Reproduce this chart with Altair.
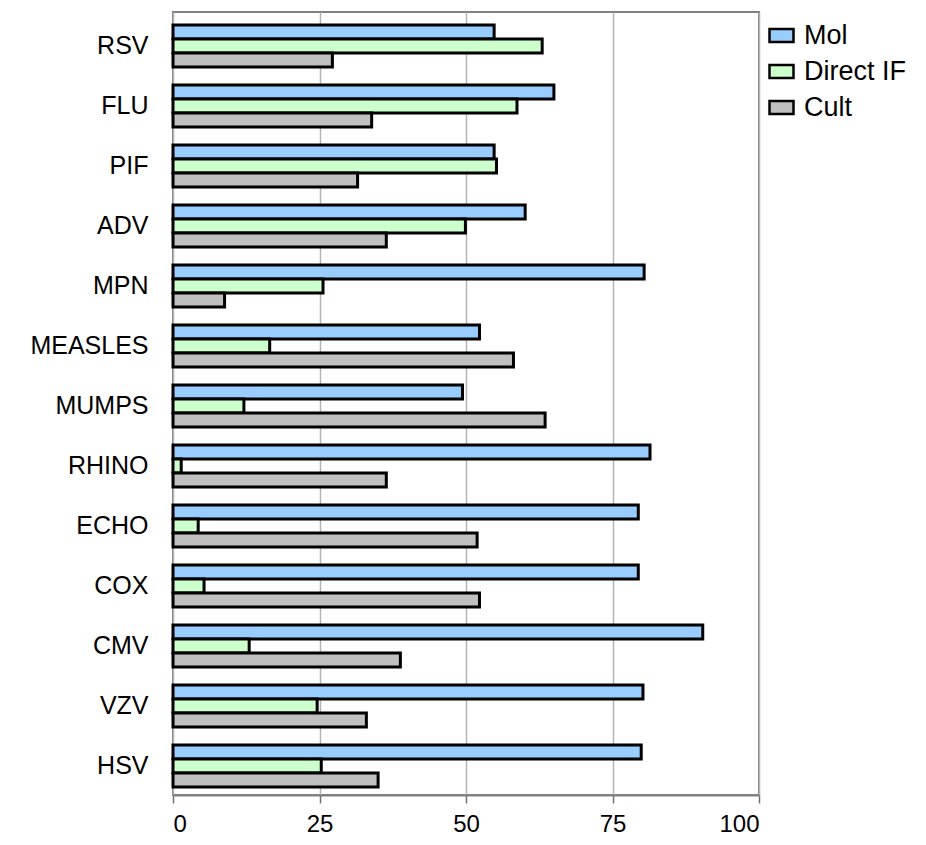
import altair as alt
import pandas as pd

categories = ["RSV", "FLU", "PIF", "ADV", "MPN", "MEASLES", "MUMPS", "RHINO",
              "ECHO", "COX", "CMV", "VZV", "HSV"]
series = ["Mol", "Direct IF", "Cult"]
mol = [54.8, 65.0, 54.8, 60.1, 80.4, 52.3, 49.4, 81.4, 79.4, 79.4, 90.4, 80.2, 79.9]
direct_if = [63.0, 58.7, 55.2, 49.9, 25.6, 16.5, 12.1, 1.4, 4.3, 5.3, 13.0, 24.6, 25.3]
cult = [27.2, 33.9, 31.5, 36.4, 8.8, 58.1, 63.5, 36.4, 51.9, 52.3, 38.8, 33.0, 35.0]
colors = ["#99CCFF", "#CCFFCC", "#C0C0C0"]
x_ticks = [0, 25, 50, 75, 100]

rows = []
for s, vals in zip(series, [mol, direct_if, cult]):
    for c, v in zip(categories, vals):
        rows.append({"category": c, "series": s, "value": v})
df = pd.DataFrame(rows)

FONT = "Liberation Sans"

chart = alt.Chart(df).mark_bar(stroke="black", strokeWidth=3, opacity=1).encode(
    x=alt.X("value:Q",
            scale=alt.Scale(domain=[0, 100], nice=False, zero=True),
            axis=alt.Axis(values=x_ticks, title=None, grid=True, gridColor="#B4B4B4",
                          gridWidth=1.5, tickColor="#707070", tickSize=8, tickWidth=1.5,
                          domainColor="#808080", domainWidth=2, labelFont=FONT,
                          labelFontSize=24, labelPadding=9, labelColor="black")),
    y=alt.Y("category:N", sort=categories,
            scale=alt.Scale(paddingInner=0.3, paddingOuter=0.175, align=0.62),
            axis=alt.Axis(title=None, ticks=False, domain=False, labelFont=FONT,
                          labelFontSize=25, labelPadding=25, labelColor="black",
                          labelAlign="right")),
    yOffset=alt.YOffset("series:N", sort=series),
    color=alt.Color("series:N", sort=series,
                    scale=alt.Scale(domain=series, range=colors),
                    legend=alt.Legend(title=None, orient="none", legendX=595, legendY=10,
                                      labelFont=FONT, labelFontSize=27, labelColor="black",
                                      labelOffset=9, rowPadding=8,
                                      symbolType="M-1,-0.54L1,-0.54L1,0.54L-1,0.54Z",
                                      symbolSize=576, symbolStrokeColor="black",
                                      symbolStrokeWidth=2.5, symbolOpacity=1)),
).properties(
    width=586, height=783,
    autosize=alt.AutoSizeParams(type="none"),
    padding={"left": 165, "top": 4, "right": 159, "bottom": 41},
).configure_view(stroke="#808080", strokeWidth=2)

chart.save("out.html", embed_options={"renderer": "svg", "actions": False})
